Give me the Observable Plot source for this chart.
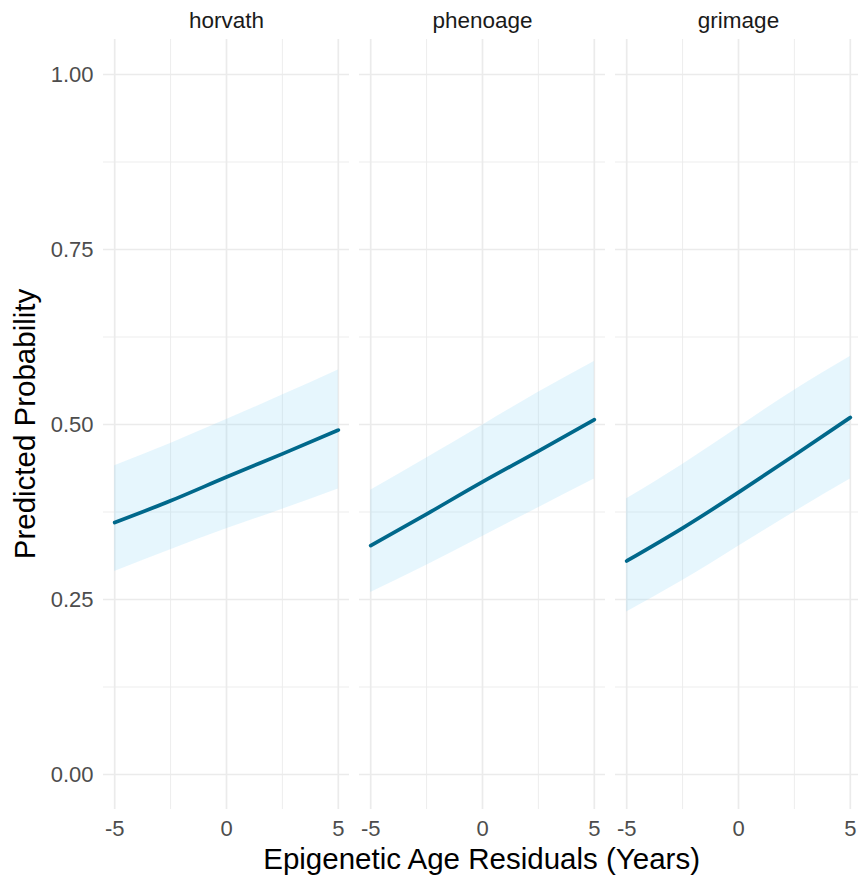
<!DOCTYPE html>
<html>
<head>
<meta charset="utf-8">
<script src="https://cdn.jsdelivr.net/npm/d3@7"></script>
<script src="https://cdn.jsdelivr.net/npm/@observablehq/plot@0.6"></script>
<style>
  html, body { margin: 0; padding: 0; background: white; }
  #chart svg { overflow: hidden; }
  #chart g[aria-label^="fx-axis"] text { fill: #1A1A1A; font-size: 22.5px; }
</style>
</head>
<body>
<div id="chart"></div>
<script>
const clocks = ["horvath", "phenoage", "grimage"];
const residuals = [-5, -2.5, 0, 2.5, 5];

const fitHorvath  = [0.360, 0.391, 0.425, 0.458, 0.492];
const lowHorvath  = [0.290, 0.321, 0.351, 0.379, 0.408];
const highHorvath = [0.441, 0.473, 0.507, 0.542, 0.578];

const fitPhenoage  = [0.327, 0.372, 0.418, 0.462, 0.507];
const lowPhenoage  = [0.260, 0.299, 0.340, 0.381, 0.422];
const highPhenoage = [0.406, 0.452, 0.499, 0.546, 0.590];

const fitGrimage  = [0.305, 0.352, 0.403, 0.456, 0.510];
const lowGrimage  = [0.232, 0.277, 0.326, 0.375, 0.422];
const highGrimage = [0.394, 0.443, 0.496, 0.549, 0.597];

const yTicks = [0, 0.25, 0.5, 0.75, 1];
const yMinor = [0.125, 0.375, 0.625, 0.875];
const xTicks = [-5, 0, 5];
const xMinor = [-2.5, 2.5];

const series = {
  horvath:  {fit: fitHorvath,  low: lowHorvath,  high: highHorvath},
  phenoage: {fit: fitPhenoage, low: lowPhenoage, high: highPhenoage},
  grimage:  {fit: fitGrimage,  low: lowGrimage,  high: highGrimage}
};
const table = clocks.flatMap(c => residuals.map((r, i) => ({
  clock: c, x: r, fit: series[c].fit[i], low: series[c].low[i], high: series[c].high[i]
})));

const W = 858, H = 877;
const gridColor = "#EBEBEB";

const plot = Plot.plot({
  width: W,
  height: H,
  marginLeft: 101.7,
  marginRight: -3.5,
  marginTop: 39,
  marginBottom: 68,
  style: {fontFamily: "'Liberation Sans', Arial, sans-serif", fontSize: "22px", color: "#4D4D4D", background: "white"},
  fx: {domain: clocks, paddingInner: 0.04, paddingOuter: 0, axis: "top", label: null, tickSize: 0, tickPadding: 12},
  x: {domain: [-5.5, 5.5], ticks: xTicks, tickSize: 0, tickPadding: 11, label: null, tickFormat: d => String(d)},
  y: {domain: [-0.05, 1.05], ticks: yTicks, tickFormat: d3.format(".2f"), tickSize: 0, tickPadding: 10, label: null},
  marks: [
    Plot.ruleY(yMinor, {stroke: gridColor, strokeWidth: 0.9}),
    Plot.ruleX(xMinor, {stroke: gridColor, strokeWidth: 0.9}),
    Plot.ruleY(yTicks, {stroke: gridColor, strokeWidth: 1.7}),
    Plot.ruleX(xTicks, {stroke: gridColor, strokeWidth: 1.7}),
    Plot.areaY(table, {x: "x", y1: "low", y2: "high", fx: "clock", fill: "#8DD8F8", fillOpacity: 0.22, curve: "natural"}),
    Plot.line(table, {x: "x", y: "fit", fx: "clock", stroke: "#00688B", strokeWidth: 3.7, curve: "natural"})
  ]
});

const svg = d3.select(plot);
svg.append("text")
  .attr("x", (101.7 + 861.5) / 2)
  .attr("y", 869)
  .attr("text-anchor", "middle")
  .attr("fill", "#000")
  .style("font-size", "29.5px")
  .text("Epigenetic Age Residuals (Years)");
svg.append("text")
  .attr("transform", `translate(35,${(39 + 809) / 2}) rotate(-90)`)
  .attr("text-anchor", "middle")
  .attr("fill", "#000")
  .style("font-size", "29.5px")
  .text("Predicted Probability");

document.getElementById("chart").appendChild(plot);
</script>
</body>
</html>
